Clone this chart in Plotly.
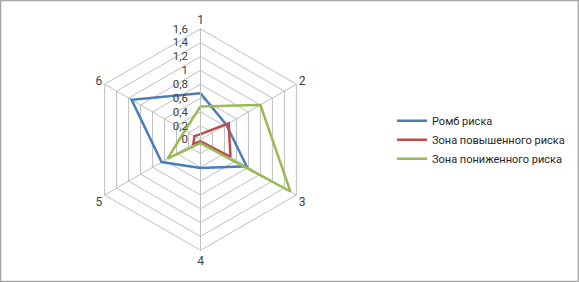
import plotly.graph_objects as go

categories = ["1", "2", "3", "4", "5", "6"]
series_names = ["Ромб риска", "Зона повышенного риска", "Зона пониженного риска"]
romb = [0.67, 0.43, 0.77, 0.41, 0.65, 1.15]
high_zone = [0.08, 0.47, 0.50, 0.03, 0.12, 0.10]
low_zone = [0.48, 1.00, 1.50, 0.05, 0.55, 0.26]
colors = ["#4A7EBB", "#BE4B48", "#98B954"]
radial_ticks = [0, 0.2, 0.4, 0.6, 0.8, 1.0, 1.2, 1.4, 1.6]

W, H = 579, 282
cx, cy, R = 200.5, 139.6, 110.7

fig = go.Figure()
for name, vals, col in zip(series_names, [romb, high_zone, low_zone], colors):
    fig.add_trace(go.Scatterpolar(
        r=vals + vals[:1], theta=categories + categories[:1],
        mode="lines", name=name, line=dict(color=col, width=2.5),
    ))

fig.update_layout(
    width=W, height=H,
    margin=dict(l=0, r=0, t=0, b=0),
    paper_bgcolor="white",
    separators=", ",
    font=dict(family="Roboto, Liberation Sans, sans-serif", size=11, color="#404040"),
    polar=dict(
        domain=dict(x=[(cx - R) / W, (cx + R) / W], y=[(H - cy - R) / H, (H - cy + R) / H]),
        bgcolor="white",
        gridshape="linear",
        angularaxis=dict(
            rotation=90, direction="clockwise",
            showline=True, linecolor="#BFBFBF", linewidth=1,
            gridcolor="#BFBFBF", gridwidth=1,
            ticks="", tickfont=dict(size=12, color="#404040"),
        ),
        radialaxis=dict(
            range=[0, 1.6], tickvals=radial_ticks, angle=90,
            side="counterclockwise",
            showline=True, linecolor="#BFBFBF", linewidth=1,
            gridcolor="#BFBFBF", gridwidth=1,
            ticks="outside", ticklen=8, tickcolor="rgba(0,0,0,0)",
            tickfont=dict(size=11.5, color="#404040"),
            tickangle=90,
        ),
    ),
    legend=dict(
        x=0.677, y=0.504, xanchor="left", yanchor="middle",
        font=dict(size=11, color="#262626"),
        bgcolor="rgba(0,0,0,0)", tracegroupgap=0, itemwidth=30,
    ),
    shapes=[dict(type="rect", xref="paper", yref="paper", x0=0.001, y0=0.002, x1=0.999, y1=0.998,
                 line=dict(color="#A6A6A6", width=1.5), fillcolor="rgba(0,0,0,0)", layer="below")],
)

fig.write_html("out.html")
